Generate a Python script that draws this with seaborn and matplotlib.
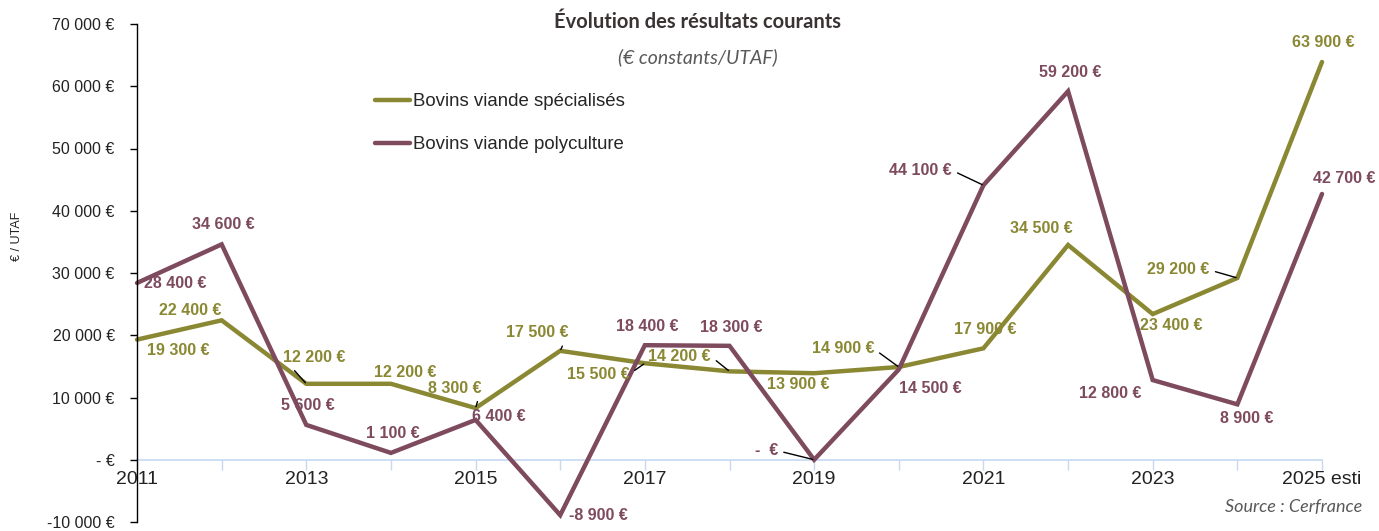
import pandas as pd
import matplotlib
matplotlib.use("Agg")
import matplotlib.pyplot as plt
import matplotlib.ticker as mticker
import seaborn as sns

annees = ["2011", "2012", "2013", "2014", "2015", "2016", "2017", "2018",
          "2019", "2020", "2021", "2022", "2023", "2024", "2025 esti"]
specialises = [19300, 22400, 12200, 12200, 8300, 17500, 15500, 14200,
               13900, 14900, 17900, 34500, 23400, 29200, 63900]
polyculture = [28400, 34600, 5600, 1100, 6400, -8900, 18400, 18300,
               0, 14500, 44100, 59200, 12800, 8900, 42700]

serie_spe = "Bovins viande spécialisés"
serie_poly = "Bovins viande polyculture"

olive = "#8a8833"
prune = "#7e4a5d"

df = pd.DataFrame({
    "idx": list(range(len(annees))) * 2,
    "valeur": specialises + polyculture,
    "serie": [serie_spe] * len(annees) + [serie_poly] * len(annees),
})

# label offsets in pixels (dx, dy downward) and which ones have leader lines
off_spe = [(41, 11), (-31, -10), (8, -26), (14, -11), (-21, -20), (-23, -18), (-47, 11),
           (-50, -15), (-16, 11), (-56, -18), (2, -19), (-27, -16), (19, 11), (-59, -8), (1, -19)]
lead_spe = {2, 4, 5, 6, 7, 9, 13}
off_poly = [(38, 1), (2, -20), (2, -19), (2, -19), (23, -3), (38, 0), (2, -19),
            (2, -18), (-48, -9), (32, 19), (-63, -15), (2, -19), (-43, 13), (9, 14), (22, -15)]
lead_poly = {8, 10}

sns.set_theme(style="white")
plt.rcParams["font.family"] = ["Liberation Sans", "DejaVu Sans"]

fig, ax = plt.subplots(figsize=(13.79, 5.31), dpi=100)
fig.subplots_adjust(left=137 / 1379, right=1322 / 1379, top=1 - 24 / 531, bottom=1 - 522 / 531)

sns.lineplot(data=df, x="idx", y="valeur", hue="serie",
             palette={serie_spe: olive, serie_poly: prune},
             linewidth=3.2, ax=ax)
for ln in ax.lines:
    ln.set_clip_on(False)
    ln.set_solid_joinstyle("miter")

ax.set_xlim(0, len(annees) - 1)
ax.set_ylim(-10000, 70000)


def fmt_euro(v):
    if v == 0:
        return "-  €"
    return f"{v:,.0f}".replace(",", " ") + " €"


ax.set_yticks(range(-10000, 70001, 10000))
ax.yaxis.set_major_formatter(mticker.FuncFormatter(lambda v, p: "- €" if v == 0 else fmt_euro(v)))
ax.set_xticks(range(len(annees)))
ax.set_xticklabels([a if i % 2 == 0 else "" for i, a in enumerate(annees)])

for s in ["top", "right"]:
    ax.spines[s].set_visible(False)
ax.spines["left"].set_color("black")
ax.spines["left"].set_linewidth(1)
ax.spines["bottom"].set_position(("data", 0))
ax.spines["bottom"].set_color("#c5d9f1")
ax.spines["bottom"].set_linewidth(1.2)
ax.spines["bottom"].set_zorder(0)

ax.tick_params(axis="y", length=5, width=1, color="black", labelsize=11.5,
               labelcolor="#222222", pad=11, left=True)
ax.tick_params(axis="x", length=7, width=1, color="#c5d9f1", labelsize=14,
               labelcolor="#222222", pad=1, bottom=True)
ax.set_xlabel("")
ax.set_ylabel("")
ax.grid(False)

leg = ax.legend(loc="upper left", bbox_to_anchor=(375 / 1379, 1 - 93 / 531),
                bbox_transform=fig.transFigure, frameon=False, fontsize=13.4,
                handlelength=1.9, handletextpad=0.15, labelspacing=1.4,
                borderpad=0, borderaxespad=0)
for h in leg.get_lines():
    h.set_linewidth(3.2)

def etiquettes(valeurs, offsets, leaders, couleur):
    for i, v in enumerate(valeurs):
        dx, dy = offsets[i]
        props = None
        if i in leaders:
            rx = 1 if dx < 0 else 0
            props = dict(arrowstyle="-", color="black", lw=1, shrinkA=2, shrinkB=1,
                         relpos=(rx, 0.5))
        ax.annotate(fmt_euro(v), xy=(i, v), xytext=(dx, -dy), textcoords="offset pixels",
                    ha="center", va="center", fontsize=11.5, fontweight="bold",
                    color=couleur, arrowprops=props, annotation_clip=False)


etiquettes(specialises, off_spe, lead_spe, olive)
etiquettes(polyculture, off_poly, lead_poly, prune)

fig.text(698 / 1379, 1 - 22 / 531, "Évolution des résultats courants", ha="center", va="center",
         fontsize=14.5, fontweight="bold", color="#3a3333", family=["Lato", "DejaVu Sans"])
fig.text(698 / 1379, 1 - 57 / 531, "(€ constants/UTAF)", ha="center", va="center",
         fontsize=14, style="italic", color="#595959", family=["Lato", "DejaVu Sans"])
fig.text(17 / 1379, 1 - 236 / 531, "€ / UTAF", rotation=90, ha="center", va="center",
         fontsize=9, color="#222222")
fig.text(1362 / 1379, 1 - 507 / 531, "Source : Cerfrance", ha="right", va="center",
         fontsize=13, style="italic", color="#595959", family=["Lato", "DejaVu Sans"])

fig.savefig("out.png", dpi=100)
